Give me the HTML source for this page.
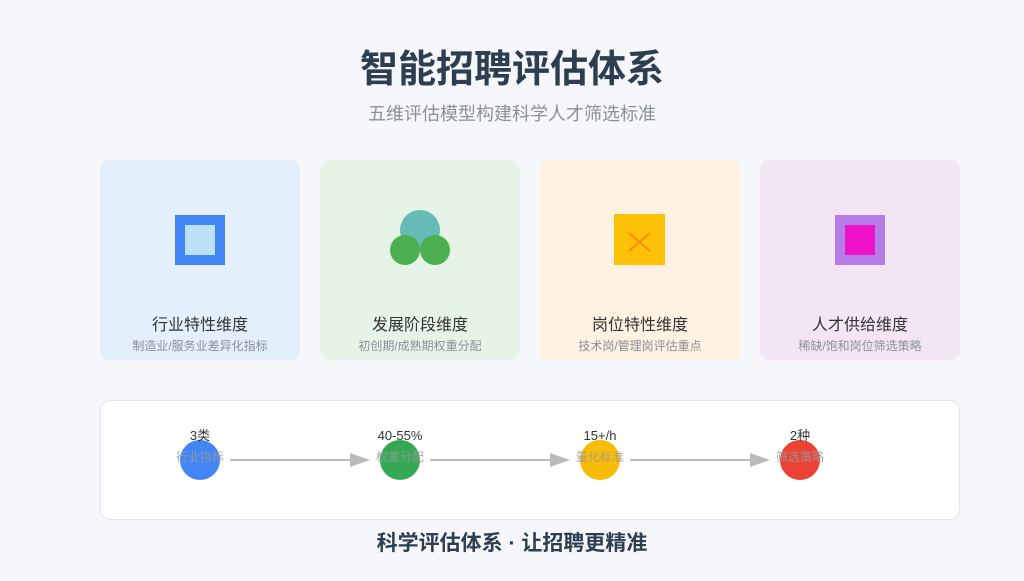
<!DOCTYPE html>
<html><head><meta charset="utf-8"><style>
body{margin:0;width:1024px;height:576px;background:#f5f7fa;overflow:hidden;font-family:"Liberation Sans","Noto Sans CJK SC",sans-serif}
</style></head><body>
<svg width="1024" height="576" xmlns="http://www.w3.org/2000/svg" style="font-family:'Liberation Sans','Noto Sans CJK SC',sans-serif">
<rect width="1024" height="576" fill="#f5f7fa"/>
<text x="512" y="82" text-anchor="middle" font-size="38" font-weight="bold" fill="#2c3e50">智能招聘评估体系</text>
<text x="512" y="120" text-anchor="middle" font-size="18" fill="#8a9099">五维评估模型构建科学人才筛选标准</text>

<rect x="100" y="160" width="200" height="200" rx="10" fill="#e3f0fc"/>
<rect x="320" y="160" width="200" height="200" rx="10" fill="#e6f4e8"/>
<rect x="540" y="160" width="200" height="200" rx="10" fill="#fdf2e1"/>
<rect x="760" y="160" width="200" height="200" rx="10" fill="#f2e5f4"/>

<rect x="175" y="215" width="50" height="50" fill="#4285f4"/>
<rect x="185" y="225" width="30" height="30" fill="#b9e0f7"/>

<circle cx="420" cy="230" r="20" fill="#66bbb6"/>
<circle cx="405" cy="250" r="15" fill="#4caf50"/>
<circle cx="435" cy="250" r="15" fill="#4caf50"/>

<rect x="614" y="214" width="51" height="51" fill="#ffc107"/>
<line x1="629" y1="233" x2="650" y2="251" stroke="#fb8c00" stroke-width="2"/>
<line x1="650" y1="233" x2="629" y2="251" stroke="#fb8c00" stroke-width="2"/>

<rect x="835" y="215" width="50" height="50" fill="#b57be8"/>
<rect x="845" y="225" width="30" height="30" fill="#ee12c8"/>

<g font-size="16" fill="#333" text-anchor="middle">
<text x="200" y="330">行业特性维度</text>
<text x="420" y="330">发展阶段维度</text>
<text x="640" y="330">岗位特性维度</text>
<text x="860" y="330">人才供给维度</text>
</g>
<g font-size="12" fill="#8a9099" text-anchor="middle">
<text x="200" y="350">制造业/服务业差异化指标</text>
<text x="420" y="350">初创期/成熟期权重分配</text>
<text x="640" y="350">技术岗/管理岗评估重点</text>
<text x="860" y="350">稀缺/饱和岗位筛选策略</text>
</g>

<rect x="100.5" y="400.5" width="859" height="119" rx="10" fill="#fff" stroke="#e3e6ea"/>
<circle cx="200" cy="460" r="20" fill="#4285f4"/>
<circle cx="400" cy="460" r="20" fill="#34a853"/>
<circle cx="600" cy="460" r="20" fill="#fbbc05"/>
<circle cx="800" cy="460" r="20" fill="#ea4335"/>
<g stroke="#bbb" stroke-width="2">
<line x1="230" y1="460" x2="352" y2="460"/>
<line x1="430" y1="460" x2="552" y2="460"/>
<line x1="630" y1="460" x2="752" y2="460"/>
</g>
<g fill="#bbb">
<polygon points="350,453 370,460 350,467"/>
<polygon points="550,453 570,460 550,467"/>
<polygon points="750,453 770,460 750,467"/>
</g>
<g font-size="13" fill="#333" text-anchor="middle">
<text x="200" y="440">3类</text>
<text x="400" y="440">40-55%</text>
<text x="600" y="440">15+/h</text>
<text x="800" y="440">2种</text>
</g>
<g font-size="12" fill="#999" text-anchor="middle" opacity="0.85">
<text x="200" y="461">行业指标</text>
<text x="400" y="461">权重分配</text>
<text x="600" y="461">量化标准</text>
<text x="800" y="461">筛选策略</text>
</g>
<text x="512" y="550" text-anchor="middle" font-size="21" font-weight="bold" fill="#2c3e50">科学评估体系 · 让招聘更精准</text>
</svg>
</body></html>
